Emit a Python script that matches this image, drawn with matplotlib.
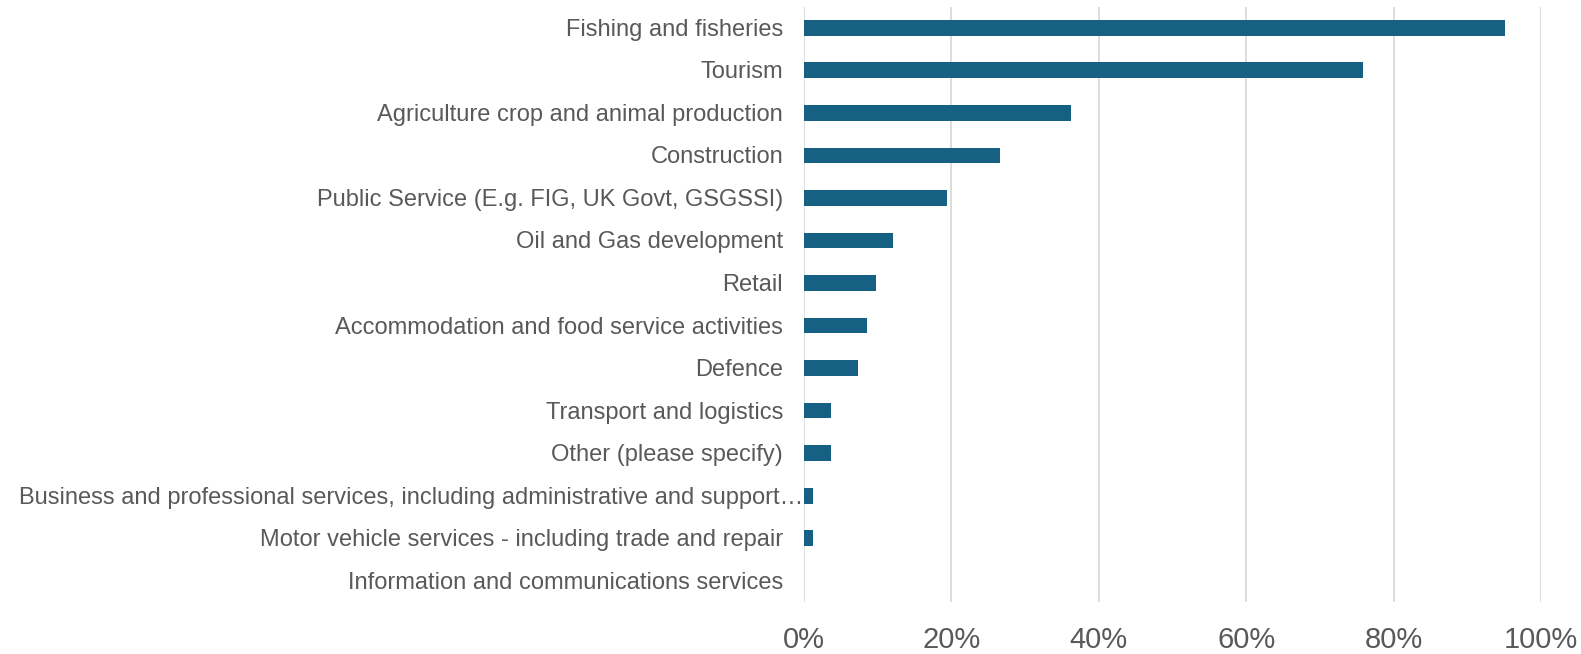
import matplotlib.pyplot as plt
from matplotlib.transforms import blended_transform_factory, offset_copy

plt.rcParams['font.family'] = ['Liberation Sans', 'DejaVu Sans']

sectors = [
    "Fishing and fisheries",
    "Tourism",
    "Agriculture crop and animal production",
    "Construction",
    "Public Service (E.g. FIG, UK Govt, GSGSSI)",
    "Oil and Gas development",
    "Retail",
    "Accommodation and food service activities",
    "Defence",
    "Transport and logistics",
    "Other (please specify)",
    "Business and professional services, including administrative and support\u2026",
    "Motor vehicle services - including trade and repair",
    "Information and communications services",
]
share = [95.1, 75.9, 36.2, 26.6, 19.4, 12.1, 9.8, 8.5, 7.3, 3.7, 3.7, 1.2, 1.2, 0.0]
xticks = [0, 20, 40, 60, 80, 100]

bar_color = "#166083"
text_color = "#595959"
grid_color = "#d9d9d9"

fig = plt.figure(figsize=(15.81, 6.54), dpi=100)
ax = fig.add_axes([804 / 1581, 1 - 602 / 654, (1541 - 804) / 1581, (602 - 6.5) / 654])

ypos = list(range(len(sectors)))
ax.barh(ypos, share, height=0.37, color=bar_color, zorder=3)

ax.set_ylim(len(sectors) - 0.5, -0.5)
ax.set_xlim(0, 100)
ax.set_xticks(xticks)
ax.set_xticklabels([f"{t}%" for t in xticks], fontsize=21, color=text_color)
ax.tick_params(axis='x', length=0, pad=17)
ax.set_yticks([])
ax.grid(axis='x', color=grid_color, linewidth=1.3, zorder=0)
for s in ax.spines.values():
    s.set_visible(False)

# category names, right-aligned next to the axis
trans = blended_transform_factory(ax.transAxes, ax.transData)
for i, name in enumerate(sectors):
    if name.endswith("\u2026"):
        t = offset_copy(trans, fig=fig, x=-1, y=-2, units='dots')
    else:
        t = offset_copy(trans, fig=fig, x=-21, y=-2, units='dots')
    ax.text(0, i, name, transform=t, ha='right', va='center',
            fontsize=17, color=text_color)

fig.savefig("out.png", dpi=100, facecolor="white")
